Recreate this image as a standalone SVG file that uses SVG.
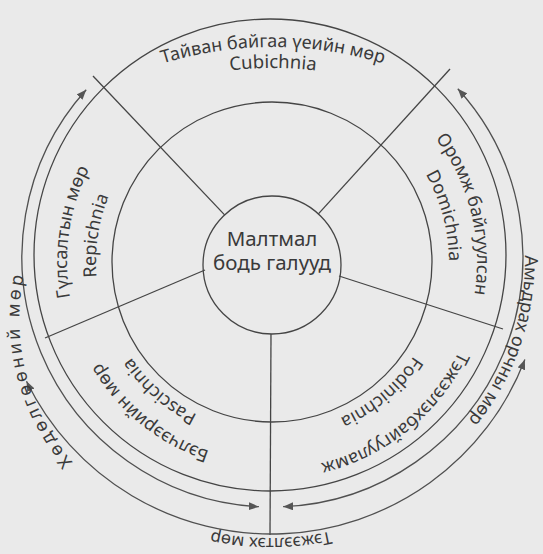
<svg xmlns="http://www.w3.org/2000/svg" width="543" height="554" viewBox="0 0 543 554">
<style>
.ln{fill:none;stroke:#454545;stroke-width:1.3}
.ar{fill:none;stroke:#505050;stroke-width:1.3;marker-start:url(#ah);marker-end:url(#ah)}
.t{font-family:"Noto Sans","Liberation Sans",sans-serif;fill:#3a3a3a;font-size:18px}
.c{font-family:"Noto Sans","Liberation Sans",sans-serif;fill:#3a3a3a;font-size:20.5px;text-anchor:middle}
</style>
<defs>
<marker id="ah" viewBox="0 0 10 8" refX="10" refY="4" markerWidth="10" markerHeight="8" markerUnits="userSpaceOnUse" orient="auto-start-reverse"><path d="M0,0 L10,4 L0,8 Z" fill="#555"/></marker>
<path id="pTop" d="M115.4,81.9 A373,373 0 0 1 430.6,81.9"/>
<path id="pCub" d="M152.6,89.2 A352,352 0 0 1 393.4,89.2"/>
<path id="pOro" d="M392.5,96.2 A205,205 0 0 1 456.3,351.9"/>
<path id="pDom" d="M385.8,126.4 A177,177 0 0 1 438.3,322.5"/>
<path id="pGul" d="M97.2,369.1 A205,205 0 0 1 136.2,108.5"/>
<path id="pRep" d="M114.5,340.5 A176,176 0 0 1 144.3,140.8"/>
<path id="pBel" d="M275.5,461 A199,199 0 0 1 76.7,300"/>
<path id="pPas" d="M254.2,431.1 A170,170 0 0 1 107,303.1"/>
<path id="pFod" d="M436.2,306 A170,170 0 0 1 286.8,431.4"/>
<path id="pTej" d="M475.2,301.5 A207,207 0 0 1 268.4,469"/>
<path id="pAmd" d="M499.3,148.6 A254,254 0 0 1 382.4,488.3"/>
<path id="pHod" d="M80,470 A217,217 0 0 1 24,275"/>
<path id="pTex" d="M448.5,473.4 A276,276 0 0 1 93.5,473.4"/>
</defs>
<rect width="543" height="554" fill="#eaeaea"/>
<g id="connectors">
<line class="ln" x1="224.6" y1="214.9" x2="93" y2="76"/>
<line class="ln" x1="318.4" y1="213.9" x2="450" y2="69"/>
<line class="ln" x1="339" y1="276" x2="503" y2="329"/>
<line class="ln" x1="205" y1="270" x2="45" y2="338"/>
<line class="ln" x1="271" y1="334" x2="270" y2="535"/>
<path class="ar" d="M258.9,506.7 A250,250 0 0 1 86.2,89.7"/>
<path class="ar" d="M457.8,88.7 A250,250 0 0 1 283.1,506.7"/>
<path class="ar" d="M524.9,359.5 A272,272 0 0 1 26.5,381.2"/>
</g>
<g id="outer-ring"><circle class="ln" cx="270" cy="255" r="236"/></g>
<g id="middle-ring"><circle class="ln" cx="272" cy="262" r="160"/></g>
<g id="center">
<circle class="ln" cx="272" cy="265" r="69"/>
<text class="c" x="272" y="246">Малтмал</text>
<text class="c" x="272" y="270">бодь галууд</text>
</g>
<g id="cubichnia">
<text class="t"><textPath href="#pTop" startOffset="50%" text-anchor="middle">Тайван байгаа үеийн мөр</textPath></text>
<text class="t" style="font-size:18.5px"><textPath href="#pCub" startOffset="50%" text-anchor="middle">Cubichnia</textPath></text>
</g>
<g id="domichnia">
<text class="t"><textPath href="#pOro" startOffset="50%" text-anchor="middle">Оромж байгуулсан</textPath></text>
<text class="t"><textPath href="#pDom" startOffset="50%" text-anchor="middle">Domichnia</textPath></text>
</g>
<g id="repichnia">
<text class="t"><textPath href="#pGul" startOffset="50%" text-anchor="middle">Гүлсалтын мөр</textPath></text>
<text class="t"><textPath href="#pRep" startOffset="50%" text-anchor="middle">Repichnia</textPath></text>
</g>
<g id="pascichnia">
<text class="t"><textPath href="#pBel" startOffset="50%" text-anchor="middle">Бэлчээрийн мөр</textPath></text>
<text class="t"><textPath href="#pPas" startOffset="50%" text-anchor="middle">Pascichnia</textPath></text>
</g>
<g id="fodinichnia">
<text class="t"><textPath href="#pFod" startOffset="50%" text-anchor="middle">Fodinichnia</textPath></text>
<text class="t"><textPath href="#pTej" startOffset="50%" text-anchor="middle">Тэжээлэхбайгууламж</textPath></text>
</g>
<g id="outer-labels">
<text class="t"><textPath href="#pAmd" startOffset="50%" text-anchor="middle">Амьдрах орчны мөр</textPath></text>
<text class="t" style="letter-spacing:3px"><textPath href="#pHod" startOffset="53%" text-anchor="middle">Хөдөлгөөний мөр</textPath></text>
<text class="t" style="font-size:17px"><textPath href="#pTex" startOffset="50%" text-anchor="middle">Тэжээлтэх мөр</textPath></text>
</g>
</svg>
